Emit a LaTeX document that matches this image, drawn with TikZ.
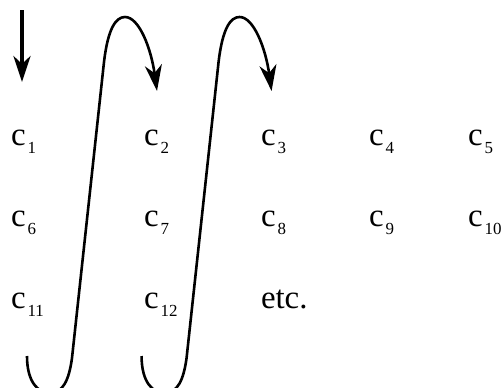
\documentclass[tikz,border=0pt]{standalone}
\usepackage{fontspec}
\setmainfont{Liberation Serif}
\usetikzlibrary{arrows.meta}
\newcommand{\cell}[1]{\fontsize{33}{33}\selectfont c\hspace{2bp}\raisebox{-8bp}{\fontsize{17}{17}\selectfont #1}}
\begin{document}
\begin{tikzpicture}[x=1bp,y=-1bp,
  lbl/.style={anchor=base west,inner sep=0pt,outer sep=0pt},
  flow/.style={line width=2.6bp,-{Stealth[length=26bp,width=17bp,inset=8bp]}}]
\useasboundingbox (0,0) rectangle (504,387);
\clip (0,0) rectangle (504,387);
% labels
\node[lbl] (c1) at (11,145) {\cell{1}};
\node[lbl] (c2) at (144,145) {\cell{2}};
\node[lbl] (c3) at (261,145) {\cell{3}};
\node[lbl] (c4) at (369,145) {\cell{4}};
\node[lbl] (c5) at (468,145) {\cell{5}};
\node[lbl] (c6) at (11,226) {\cell{6}};
\node[lbl] (c7) at (144,226) {\cell{7}};
\node[lbl] (c8) at (261,226) {\cell{8}};
\node[lbl] (c9) at (369,226) {\cell{9}};
\node[lbl] (c10) at (468,226) {\cell{10}};
\node[lbl] (c11) at (11,308) {\cell{11}};
\node[lbl] (c12) at (144,308) {\cell{12}};
\node[lbl] (etc) at (261,308) {\fontsize{33}{33}\selectfont etc.};
% start arrow
\coordinate (s0) at (22,10);
\coordinate (s1) at (22,82);
\draw[flow,line width=3.6bp] (s0) -- (s1);
% snake arrows
\foreach \dx/\n in {0/a,115/b}{
  \begin{scope}[xshift=\dx]
  \draw[flow] (27,356) .. controls (27,382) and (38,393) .. (50,393)
     .. controls (63,393) and (69,380) .. (72,358)
     -- (104,62)
     .. controls (108,28) and (116,17) .. (125,17)
     .. controls (139,17) and (151,48) .. (157,91);
  \end{scope}
}
\end{tikzpicture}
\end{document}
